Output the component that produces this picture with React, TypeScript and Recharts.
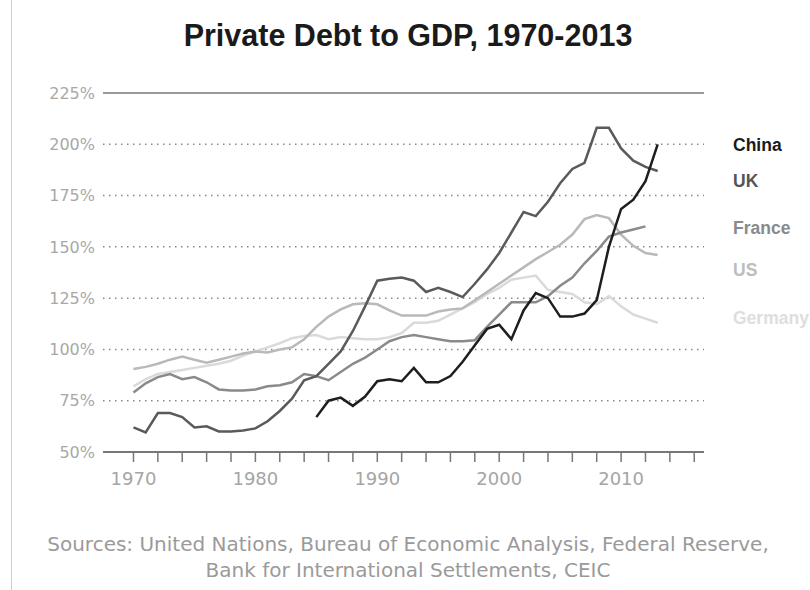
import React from 'react';
import { LineChart, Line, XAxis, YAxis, ReferenceLine } from 'recharts';

const years = [
  1970, 1971, 1972, 1973, 1974, 1975, 1976, 1977, 1978, 1979,
  1980, 1981, 1982, 1983, 1984, 1985, 1986, 1987, 1988, 1989,
  1990, 1991, 1992, 1993, 1994, 1995, 1996, 1997, 1998, 1999,
  2000, 2001, 2002, 2003, 2004, 2005, 2006, 2007, 2008, 2009,
  2010, 2011, 2012, 2013,
];

// null = no data for that year
const china = [
  null, null, null, null, null, null, null, null, null, null,
  null, null, null, null, null, 67, 75, 76.5, 72.5, 77,
  84.5, 85.5, 84.5, 91, 84, 84, 87, 94, 102, 110,
  112, 105, 119, 127.5, 125, 116, 116, 117.5, 124, 150,
  168.5, 173, 182, 200,
];
const uk = [
  62, 59.5, 69, 69, 67, 62, 62.5, 60, 60, 60.5,
  61.5, 65, 70, 76, 85, 87, 93, 99, 109, 121,
  133.5, 134.5, 135, 133.5, 128, 130, 128, 125.5, 132, 139,
  147, 157, 167, 165, 172, 181, 188, 191, 208, 208,
  198, 192, 189, 187,
];
const france = [
  79, 83.5, 86.5, 88, 85.5, 86.5, 84, 80.5, 80, 80,
  80.5, 82, 82.5, 84, 88, 87, 85, 89, 93, 96,
  100, 104, 106, 107, 106, 105, 104, 104, 104.5, 111,
  117, 123, 123, 123, 126, 131, 135, 142, 148, 155,
  157, 158.5, 160, null,
];
const us = [
  90.5, 91.5, 93, 95, 96.5, 95, 93.5, 95, 96.5, 98,
  99, 98.5, 100, 101, 105, 111, 116, 119.5, 122, 122.5,
  122, 119, 116.5, 116.5, 116.5, 118.5, 119.5, 120, 124, 128,
  132, 136, 140, 144, 147.5, 151, 156, 163.5, 165.5, 164,
  156, 150.5, 147, 146,
];
const germany = [
  82, 85.5, 88, 89, 90, 91, 92, 93, 94.5, 97,
  99, 101, 103, 105.5, 106.5, 107, 105, 106, 105.5, 105,
  105, 106, 108, 113, 113, 114, 117, 120, 123, 127,
  130, 134, 135, 136, 129, 128, 127, 123, 122, 126,
  121, 117, 115, 113,
];

const seriesNames = ['Germany', 'US', 'France', 'UK', 'China'];
const seriesValues = [germany, us, france, uk, china];
const seriesColors = ['#dadada', '#b9b9b9', '#8a8a8a', '#5a5a5a', '#1e1e1e'];

const legendNames = ['China', 'UK', 'France', 'US', 'Germany'];
const legendColors = ['#1a1a1a', '#555555', '#8a8a8a', '#bdbdbd', '#dedede'];
const legendTops = [135, 171, 218, 260, 308];

const xTicks = [
  1970, 1972, 1974, 1976, 1978, 1980, 1982, 1984, 1986, 1988, 1990, 1992,
  1994, 1996, 1998, 2000, 2002, 2004, 2006, 2008, 2010, 2012, 2014, 2016,
];
const xLabels = [1970, 1980, 1990, 2000, 2010];
const yTicks = [50, 75, 100, 125, 150, 175, 200, 225];
const dottedLines = [75, 100, 125, 150, 175, 200];

const rows = years.map((year, i) => {
  const row: Record<string, number | null> = { year };
  seriesNames.forEach((name, s) => {
    row[name] = seriesValues[s][i];
  });
  return row;
});

const FONT = '"Liberation Sans", Arial, sans-serif';
const WIDE = '"DejaVu Sans", sans-serif';

const XTick = (props: any) => {
  const { x, y, payload } = props;
  if (!xLabels.includes(payload.value)) return null;
  return (
    <text x={x} y={y + 21} textAnchor="middle" fontSize={18} fill="#a5a5a5" fontFamily={WIDE}>
      {payload.value}
    </text>
  );
};

const App: React.FC = () => {
  return (
    <div style={{ position: 'absolute', left: 0, top: 0, width: 810, height: 590, background: '#fff', fontFamily: FONT }}>
      <div style={{ position: 'absolute', left: 11, top: 0, width: 1, height: 590, background: '#cfcfcf' }} />
      <div
        style={{
          position: 'absolute', left: 3, top: 18, width: 810, textAlign: 'center',
          fontSize: 30.5, fontWeight: 'bold', color: '#1a1a1a', lineHeight: '34px',
        }}
      >
        Private Debt to GDP, 1970-2013
      </div>

      <div style={{ position: 'absolute', left: 0, top: 0 }}>
        <LineChart width={810} height={590} data={rows} margin={{ top: 93, right: 106, bottom: 108, left: 8 }}>
          <XAxis
            dataKey="year"
            type="number"
            domain={[1967.5, 2016.8]}
            ticks={xTicks}
            interval={0}
            height={30}
            tickSize={10}
            axisLine={{ stroke: '#777', strokeWidth: 2 }}
            tickLine={{ stroke: '#777', strokeWidth: 1.5 }}
            tick={<XTick />}
          />
          <YAxis
            domain={[50, 225]}
            ticks={yTicks}
            width={95}
            axisLine={false}
            tickLine={false}
            tickFormatter={(v: number) => `${v}%`}
            tick={{ fontSize: 16, fill: '#a8a8a8', fontFamily: WIDE }}
          />
          {dottedLines.map((v) => (
            <ReferenceLine key={v} y={v} stroke="#888" strokeWidth={1.5} strokeDasharray="1.5 4.5" />
          ))}
          <ReferenceLine y={225} stroke="#999" strokeWidth={2} />
          {seriesNames.map((name, s) => (
            <Line
              key={name}
              dataKey={name}
              type="linear"
              stroke={seriesColors[s]}
              strokeWidth={2.5}
              dot={false}
              activeDot={false}
              connectNulls={false}
              isAnimationActive={false}
            />
          ))}
        </LineChart>
      </div>

      {legendNames.map((name, i) => (
        <div
          key={name}
          style={{
            position: 'absolute', left: 733, top: legendTops[i], fontSize: 17.5, fontWeight: 'bold',
            color: legendColors[i], lineHeight: '20px', whiteSpace: 'nowrap',
          }}
        >
          {name}
        </div>
      ))}

      <div
        style={{
          position: 'absolute', left: 3, top: 531, width: 810, textAlign: 'center',
          fontSize: 20, color: '#9a9a9a', lineHeight: '26px', fontFamily: WIDE, whiteSpace: 'nowrap',
        }}
      >
        Sources: United Nations, Bureau of Economic Analysis, Federal Reserve,
        <br />
        Bank for International Settlements, CEIC
      </div>
    </div>
  );
};

export default App;
